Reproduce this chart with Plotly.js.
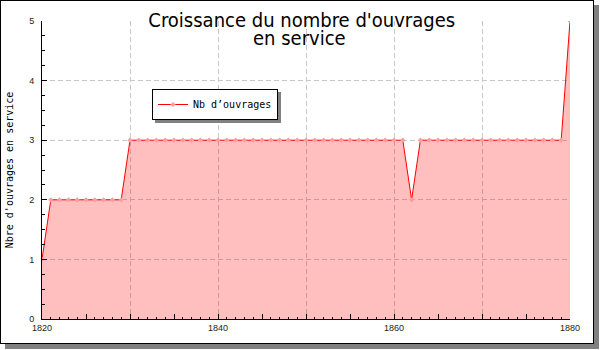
<!DOCTYPE html>
<html>
<head>
<meta charset="utf-8">
<script src="https://cdn.plot.ly/plotly-3.0.1.min.js"></script>
<style>
  html, body { margin: 0; padding: 0; background: #ffffff; }
  #frame {
    position: absolute; left: 0; top: 0;
    width: 594px; height: 344px;
    box-sizing: border-box;
    border: 1px solid #000000;
    box-shadow: 5px 5px 0 #808080;
    background: #ffffff;
  }
  #chart { position: absolute; left: 0; top: 0; width: 592px; height: 342px; }
  .legend .bg { filter: drop-shadow(3px 3px 0 #808080); }
</style>
</head>
<body>
<div id="frame"><div id="chart"></div></div>
<script>
// ---- data ----
const years = [1820,1821,1822,1823,1824,1825,1826,1827,1828,1829,
               1830,1831,1832,1833,1834,1835,1836,1837,1838,1839,
               1840,1841,1842,1843,1844,1845,1846,1847,1848,1849,
               1850,1851,1852,1853,1854,1855,1856,1857,1858,1859,
               1860,1861,1862,1863,1864,1865,1866,1867,1868,1869,
               1870,1871,1872,1873,1874,1875,1876,1877,1878,1879,
               1880];
const nbOuvrages = [1,2,2,2,2,2,2,2,2,2,
                    3,3,3,3,3,3,3,3,3,3,
                    3,3,3,3,3,3,3,3,3,3,
                    3,3,3,3,3,3,3,3,3,3,
                    3,3,2,3,3,3,3,3,3,3,
                    3,3,3,3,3,3,3,3,3,3,
                    5];
const seriesName = "Nb d\u2019ouvrages";
const xTickVals = [1820,1830,1840,1850,1860,1870,1880];
const xTickText = ["1820","","1840","","1860","","1880"];
const titleLine1 = "Croissance du nombre d'ouvrages";
const titleLine2 = "en service";
const yTitle = "Nbre d'ouvrages en service";

const monoFont = "DejaVu Sans Mono, Liberation Mono, monospace";
const titleFont = {family: "DejaVu Sans Condensed, DejaVu Sans, sans-serif", size: 20, color: "#000000"};
const tickFont = {family: "Liberation Sans, Arial, sans-serif", size: 9, color: "#222222"};

const traces = [
  {
    x: years, y: nbOuvrages, type: "scatter", mode: "none",
    fill: "tozeroy", fillcolor: "rgba(255,0,0,0.25)",
    showlegend: false, hoverinfo: "skip"
  },
  {
    x: years, y: nbOuvrages, type: "scatter", mode: "lines+markers",
    name: seriesName,
    line: {color: "#ff0000", width: 1},
    marker: {symbol: "diamond", size: 4, color: "#ff9c9c"}
  },
  {
    x: years, y: nbOuvrages, type: "scatter", mode: "lines",
    xaxis: "x2", line: {width: 0}, opacity: 0,
    showlegend: false, hoverinfo: "skip"
  }
];

const layout = {
  width: 592, height: 342,
  margin: {l: 41, r: 23, t: 20, b: 24, pad: 0},
  paper_bgcolor: "rgba(0,0,0,0)",
  plot_bgcolor: "rgba(0,0,0,0)",
  showlegend: true,
  title: {
    text: titleLine1, font: titleFont,
    xref: "container", x: 0.508, xanchor: "center",
    yref: "container", y: 1 - 19/342, yanchor: "middle"
  },
  annotations: [{
    text: titleLine2, showarrow: false, font: titleFont,
    xref: "paper", x: 0.4886, xanchor: "center",
    yref: "paper", y: (318-37)/298, yanchor: "middle"
  }],
  xaxis: {
    range: [1820, 1880],
    tickmode: "array", tickvals: xTickVals, ticktext: xTickText,
    ticks: "inside", ticklen: 5, tickwidth: 1, tickcolor: "#000000",
    showgrid: true, gridcolor: "#c8c8c8", griddash: "5px,3px", gridwidth: 1,
    showline: true, linecolor: "#000000", linewidth: 1,
    zeroline: false, tickfont: tickFont,
    minor: {dtick: 1, tick0: 1820, ticks: "inside", ticklen: 2.5, tickcolor: "#000000", showgrid: false}
  },
  xaxis2: {
    overlaying: "x", anchor: "y", side: "bottom",
    range: [1820, 1880], tick0: 1820, dtick: 5,
    ticks: "inside", ticklen: 5, tickcolor: "#000000",
    showticklabels: false, showgrid: false, showline: false, zeroline: false
  },
  yaxis: {
    range: [0, 5], dtick: 1, tick0: 0,
    ticks: "inside", ticklen: 5, tickwidth: 1, tickcolor: "#000000",
    showgrid: true, gridcolor: "#c8c8c8", griddash: "5px,3px", gridwidth: 1,
    showline: true, linecolor: "#000000", linewidth: 1,
    zeroline: false, tickfont: tickFont, ticklabelstandoff: 5,
    minor: {dtick: 0.25, ticks: "inside", ticklen: 3, tickcolor: "#000000", showgrid: false},
    title: {text: yTitle, font: {family: monoFont, size: 10, color: "#000000"}, standoff: 13}
  },
  legend: {
    x: (151-41)/528, y: (318-88)/298, xanchor: "left", yanchor: "top",
    bgcolor: "#ffffff", bordercolor: "#000000", borderwidth: 1,
    font: {family: monoFont, size: 10, color: "#000000"},
    itemwidth: 30
  }
};

Plotly.newPlot("chart", traces, layout, {displayModeBar: false, staticPlot: true});
</script>
</body>
</html>
